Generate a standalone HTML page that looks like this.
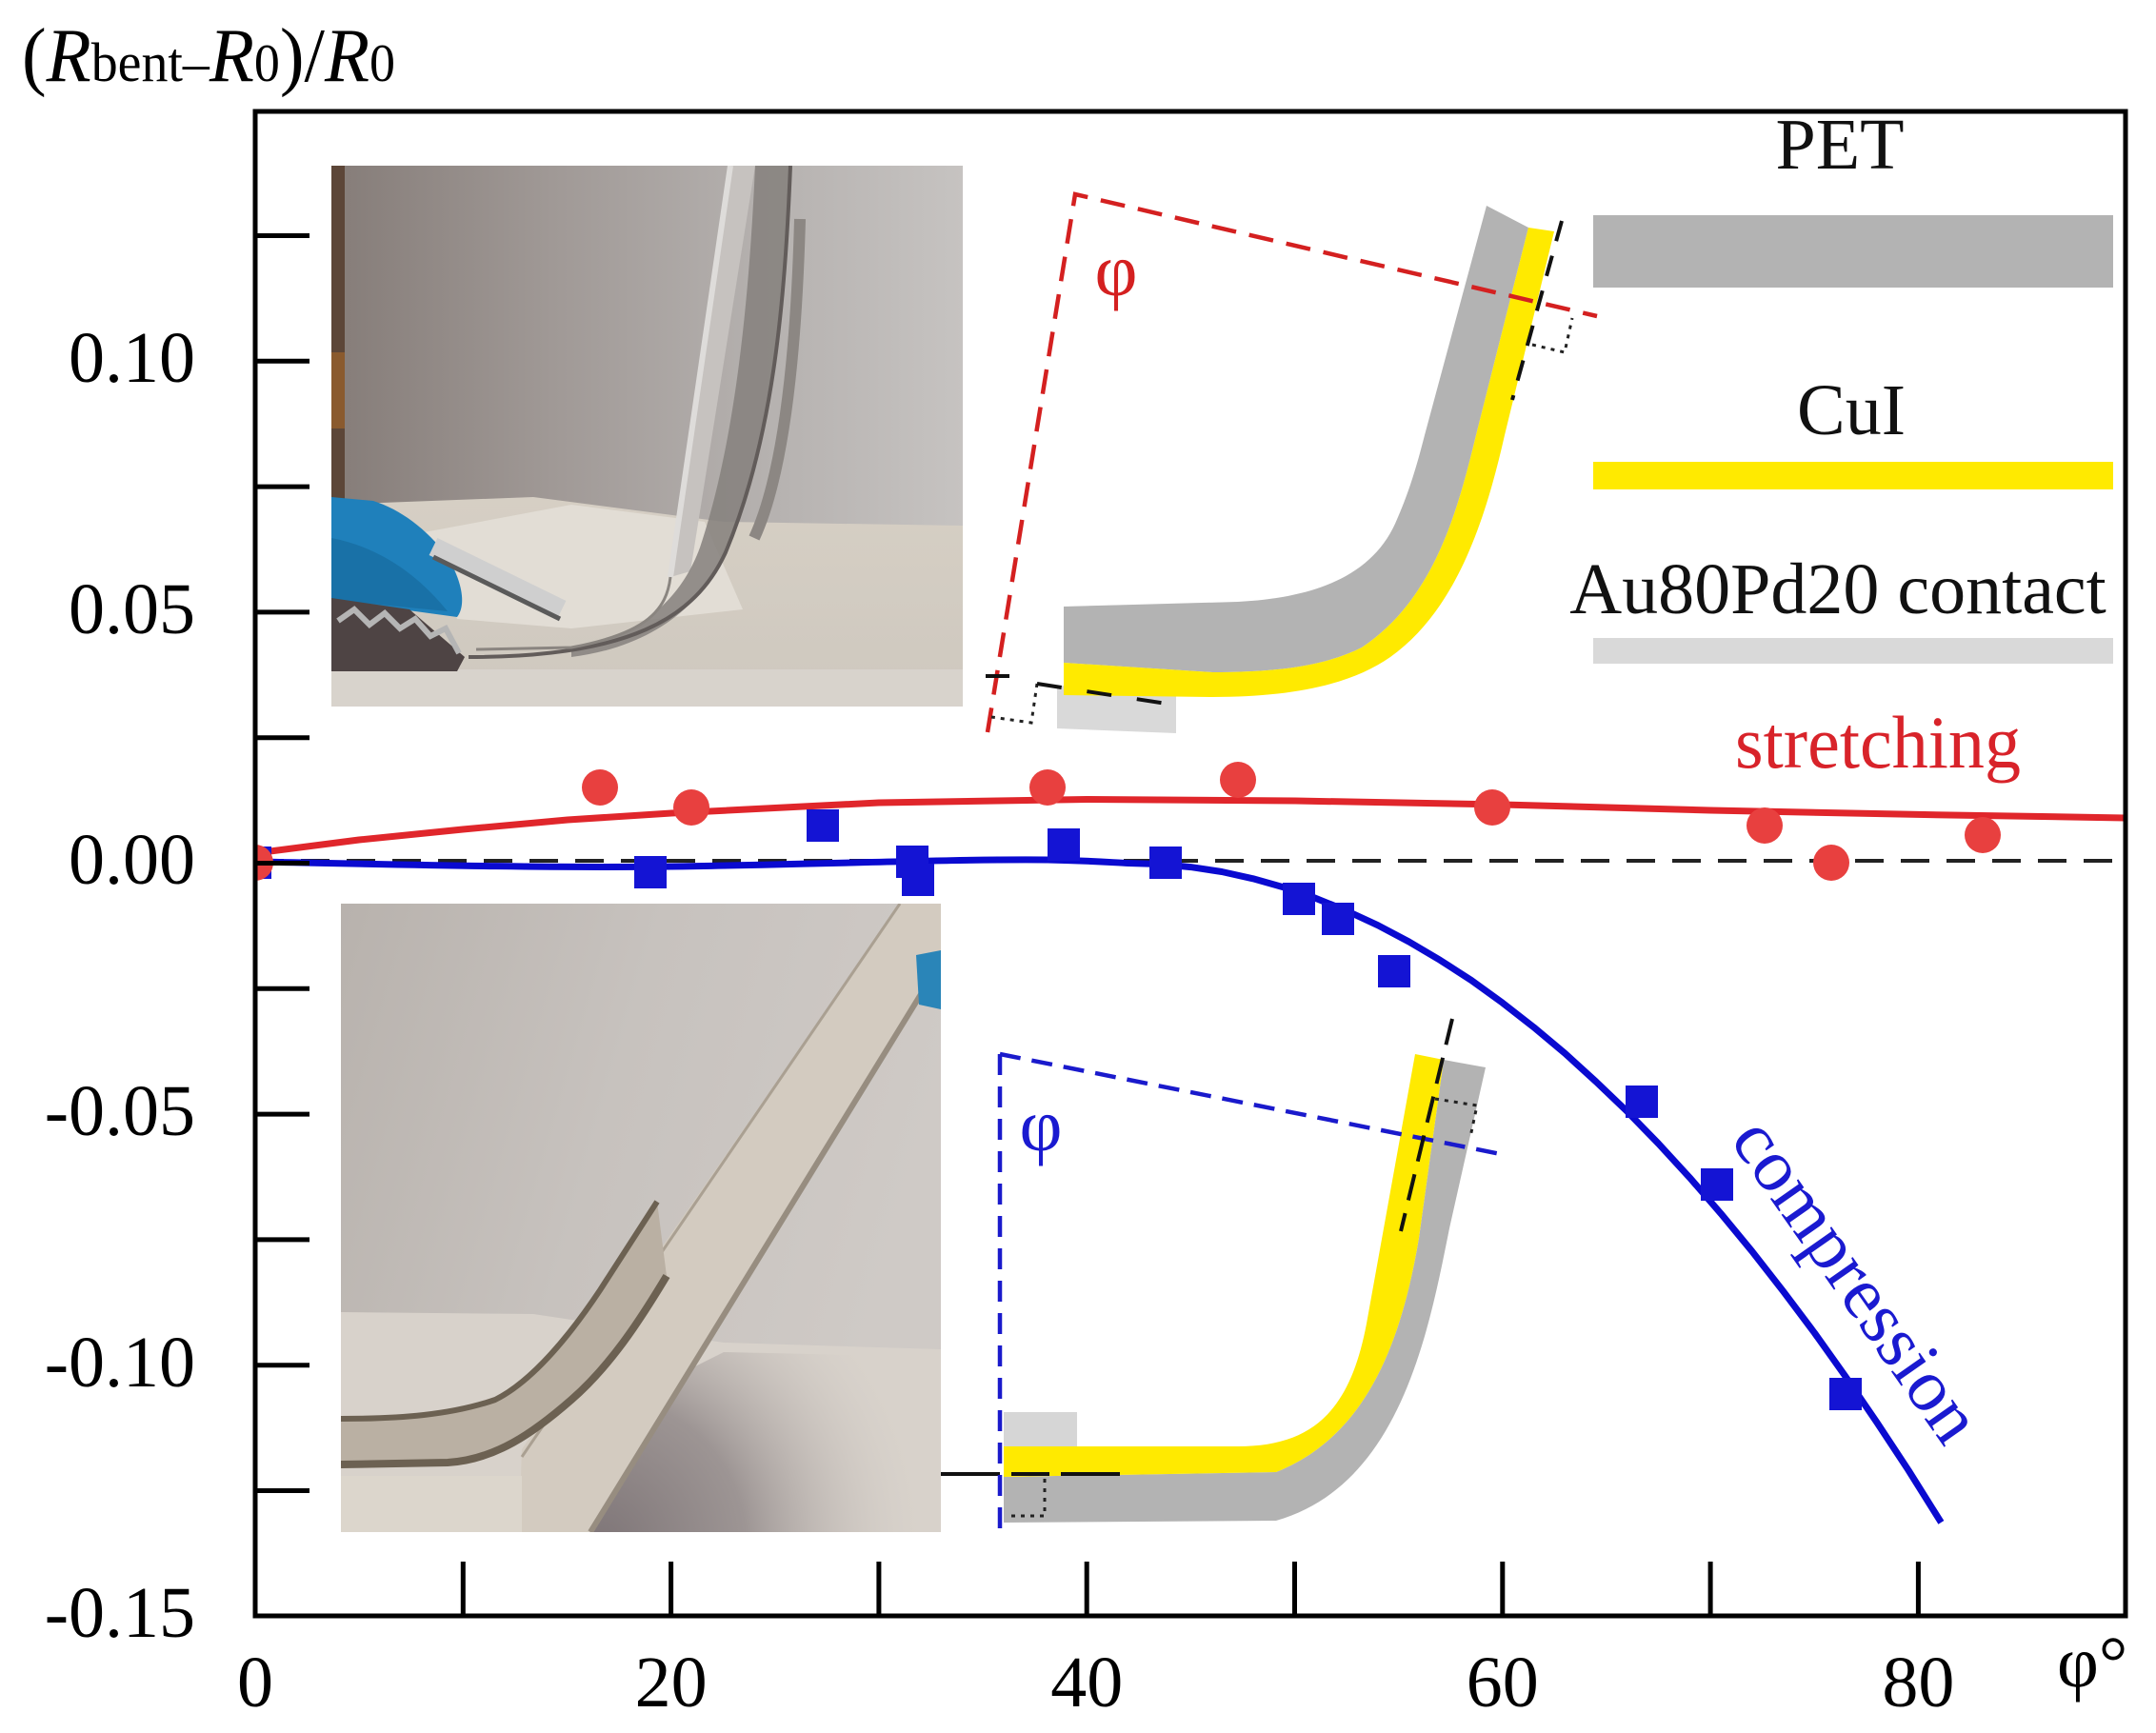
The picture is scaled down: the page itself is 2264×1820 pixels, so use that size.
<!DOCTYPE html>
<html><head><meta charset="utf-8"><style>html,body{margin:0;padding:0;background:#fff}svg{display:block}</style></head>
<body>
<svg width="2264" height="1820" viewBox="0 0 2264 1820" xmlns="http://www.w3.org/2000/svg" font-family="'Liberation Serif', 'DejaVu Serif', serif">
<defs>
  <clipPath id="cp1"><rect x="348" y="174" width="663" height="568"/></clipPath>
  <clipPath id="cp2"><rect x="358" y="949" width="630" height="660"/></clipPath>
  <clipPath id="plot"><rect x="268" y="117" width="1964" height="1580"/></clipPath>
  <linearGradient id="wall1" x1="0" y1="0" x2="1" y2="0">
    <stop offset="0" stop-color="#857c78"/>
    <stop offset="0.35" stop-color="#a09996"/>
    <stop offset="0.7" stop-color="#b6b2b0"/>
    <stop offset="1" stop-color="#c6c3c1"/>
  </linearGradient>
  <linearGradient id="table1" x1="0" y1="0" x2="0" y2="1">
    <stop offset="0" stop-color="#d6cfc4"/>
    <stop offset="1" stop-color="#cec8bf"/>
  </linearGradient>
  <linearGradient id="wall2" x1="0" y1="0" x2="1" y2="0.3">
    <stop offset="0" stop-color="#b8b2ad"/>
    <stop offset="0.5" stop-color="#c7c2be"/>
    <stop offset="1" stop-color="#cfcac6"/>
  </linearGradient>
  <radialGradient id="shadow2" cx="630" cy="1620" r="340" gradientUnits="userSpaceOnUse">
    <stop offset="0" stop-color="#7f7678"/>
    <stop offset="0.45" stop-color="#9d9594"/>
    <stop offset="1" stop-color="#d2ccc6" stop-opacity="0"/>
  </radialGradient>
</defs>
<rect width="2264" height="1820" fill="#ffffff"/>

<!-- Top photo -->
<g clip-path="url(#cp1)">
  <rect x="348" y="174" width="663" height="568" fill="url(#wall1)"/>
  <rect x="348" y="174" width="14" height="400" fill="#5c4638"/>
  <rect x="348" y="370" width="14" height="80" fill="#8a5a2e"/>
  <polygon points="348,530 560,522 760,548 1011,552 1011,742 348,742" fill="url(#table1)"/>
  <polygon points="440,560 600,530 740,548 780,640 600,660 480,650" fill="#e2ddd5"/>
  <rect x="348" y="703" width="663" height="39" fill="#d8d3cc"/>
  <path d="M348,522 L392,526 C420,535 448,555 470,585 C485,610 490,635 480,648 L348,630 Z" fill="#1f80bb"/>
  <path d="M348,565 C400,575 440,605 470,642 L348,630 Z" fill="#16679a" opacity="0.6"/>
  <line x1="455" y1="574" x2="590" y2="640" stroke="#cfcfcf" stroke-width="20"/>
  <line x1="455" y1="585" x2="588" y2="650" stroke="#5a5a5a" stroke-width="5"/>
  <polygon points="348,628 430,640 488,690 480,705 348,705" fill="#4e4444"/>
  <polyline points="355,652 372,640 388,656 404,644 420,660 436,650 452,668 468,660 482,686" stroke="#b5b5b5" stroke-width="6" fill="none"/>
  <polygon points="767,174 793,174 725,600 704,606" fill="#c6c2bf"/>
  <path d="M793,174 L830,174 C824,320 812,460 762,580 C735,640 680,680 600,690 L600,680 C670,670 715,630 735,575 C770,470 786,330 793,174 Z" fill="#85807c" opacity="0.85"/>
  <path d="M840,230 C836,380 822,500 792,565" stroke="#8c8783" stroke-width="12" fill="none"/>
  <path d="M767,174 L704,606" stroke="#dedcda" stroke-width="6" fill="none"/>
  <path d="M830,174 C824,320 812,460 762,580 C730,650 660,690 492,690" stroke="#625c5a" stroke-width="4" fill="none"/>
  <path d="M704,606 C700,640 680,665 600,680 L500,682" stroke="#8a8580" stroke-width="3" fill="none"/>
</g>

<!-- Bottom photo -->
<g clip-path="url(#cp2)">
  <rect x="358" y="949" width="630" height="660" fill="url(#wall2)"/>
  <polygon points="358,1378 560,1380 760,1410 988,1417 988,1609 358,1609" fill="#d8d2cb"/>
  <polygon points="560,1609 640,1480 760,1420 988,1425 988,1609" fill="url(#shadow2)"/>
  <polygon points="548,1522 545,1609 620,1609 988,1010 988,949 945,949" fill="#d3cbc0"/>
  <line x1="620" y1="1609" x2="988" y2="1010" stroke="#978d80" stroke-width="6"/>
  <line x1="548" y1="1530" x2="945" y2="949" stroke="#aaa092" stroke-width="3"/>
  <rect x="358" y="1550" width="190" height="59" fill="#dcd6cc"/>
  <path d="M358,1490 C420,1490 474,1486 520,1470 C560,1450 600,1400 630,1355 L690,1262 L700,1340 C670,1390 640,1435 600,1470 C560,1505 520,1533 470,1536 L358,1538 Z" fill="#bab0a3"/>
  <path d="M358,1490 C420,1490 474,1486 520,1470 C560,1450 600,1400 630,1355 L690,1262" stroke="#6c6152" stroke-width="6" fill="none"/>
  <path d="M700,1340 C670,1390 640,1435 600,1470 C560,1505 520,1533 470,1536 L358,1538" stroke="#6c6152" stroke-width="8" fill="none"/>
  <polygon points="962,1003 988,998 988,1060 965,1055" fill="#2a85b8"/>
</g>

<!-- Stretching schematic -->
<polygon points="1110,720 1235,724 1235,770 1110,765" fill="#d9d9d9"/>
<path d="M1117,637 L1300,632 C1380,628 1440,605 1465,550 C1482,512 1490,480 1496,457 L1561,216 L1605,239 L1584,322 L1550,457 C1530,540 1505,630 1430,680 C1390,700 1340,706 1273,706 L1117,696 Z" fill="#b3b3b3"/>
<path d="M1117,696 L1273,706 C1340,706 1390,700 1430,680 C1505,630 1530,540 1550,457 L1584,322 L1605,239 L1632,243 L1609,338 L1580,457 C1560,545 1530,640 1460,690 C1420,718 1360,732 1273,732 L1117,730 Z" fill="#ffea00"/>
<polyline points="1037,769 1129,204 1677,332" fill="none" stroke="#d42020" stroke-width="4.5" stroke-dasharray="26 14"/>
<line x1="1035" y1="710" x2="1060" y2="710" stroke="#111" stroke-width="4"/>
<polyline points="1089,718 1083,759 1041,753" fill="none" stroke="#222" stroke-width="3" stroke-dasharray="4 6"/>
<line x1="1089" y1="718" x2="1225" y2="739" stroke="#111" stroke-width="4" stroke-dasharray="26 27"/>
<line x1="1640" y1="232" x2="1588" y2="420" stroke="#111" stroke-width="4" stroke-dasharray="22 16"/>
<polyline points="1609,362 1643,370 1651,334" fill="none" stroke="#222" stroke-width="3" stroke-dasharray="4 6"/>
<text x="1172" y="310" font-size="78" fill="#d42020" text-anchor="middle">φ</text>

<!-- Compression schematic -->
<rect x="1054" y="1483" width="77" height="36" fill="#d6d6d6"/>
<path d="M1054,1551 L1340,1546 C1430,1510 1470,1420 1490,1300 L1516,1113 L1560,1121 L1522,1290 C1500,1400 1470,1560 1340,1597 L1054,1599 Z" fill="#b3b3b3"/>
<path d="M1054,1519 L1300,1519 C1380,1519 1418,1480 1435,1390 L1486,1107 L1516,1113 L1490,1300 C1470,1420 1430,1510 1340,1546 L1054,1551 Z" fill="#ffea00"/>
<line x1="988" y1="1548" x2="1184" y2="1548" stroke="#111" stroke-width="4" stroke-dasharray="62 12 40 12"/>
<polyline points="1097,1553 1097,1592 1058,1592" fill="none" stroke="#222" stroke-width="3" stroke-dasharray="4 6"/>
<line x1="1050" y1="1107" x2="1050" y2="1612" stroke="#1a1acc" stroke-width="4.5" stroke-dasharray="22 12"/>
<line x1="1050" y1="1107" x2="1581" y2="1213" stroke="#1a1acc" stroke-width="4.5" stroke-dasharray="22 12"/>
<line x1="1525" y1="1070" x2="1471" y2="1293" stroke="#111" stroke-width="4" stroke-dasharray="28 14"/>
<polyline points="1507,1154 1551,1161 1544,1194" fill="none" stroke="#222" stroke-width="3" stroke-dasharray="4 6"/>
<text x="1093" y="1208" font-size="78" fill="#1a1ad0" text-anchor="middle">φ</text>

<!-- Legend -->
<text x="1932" y="177" font-size="76" text-anchor="middle" fill="#111">PET</text>
<rect x="1673" y="226" width="546" height="76" fill="#b3b3b3"/>
<text x="1944" y="456" font-size="76" text-anchor="middle" fill="#111">CuI</text>
<rect x="1673" y="485" width="546" height="29" fill="#ffea00"/>
<text x="1930" y="644" font-size="76" text-anchor="middle" fill="#111">Au80Pd20 contact</text>
<rect x="1673" y="670" width="546" height="27" fill="#d9d9d9"/>
<text x="1822" y="806" font-size="78" fill="#d8232a" textLength="300" lengthAdjust="spacingAndGlyphs">stretching</text>
<text transform="translate(1929,1359) rotate(55)" font-size="78" fill="#1a1ad0" text-anchor="middle" textLength="395" lengthAdjust="spacingAndGlyphs">compression</text>

<!-- Zero dashed line -->
<line x1="268" y1="904" x2="2232" y2="904" stroke="#222" stroke-width="4" stroke-dasharray="30 18"/>

<!-- Curves -->
<polyline points="268,896 377,882 486,871 596,861 705,854 923,843 1141,839.5 1360,841 1578,845 1796,851 2014,855.4 2232,859" fill="none" stroke="#e0262b" stroke-width="7" stroke-linejoin="round"/>
<path d="M268,905 C380,907 560,912 705,910 C850,908 1000,902 1100,903 C1150,904 1170,906 1185,906.5 L1218,907.5 L1250.4,910.6 L1283,915.5 L1315.8,922.8 L1348.5,932 L1381.3,943.2 L1414,956.5 L1446.8,971.7 L1479.5,989 L1512.3,1008.4 L1545,1029.5 L1577.8,1053.2 L1610.5,1078.7 L1643.3,1106.2 L1676,1136 L1708.8,1167.4 L1741.5,1201 L1774.3,1236.7 L1807,1274.4 L1839.8,1314.1 L1872.5,1356 L1905.3,1399.7 L1938,1445.6 L1970.7,1493.5 L2004,1544 L2038.4,1598.9" fill="none" stroke="#0a0ad0" stroke-width="7" stroke-linejoin="round"/>

<!-- Markers -->
<g clip-path="url(#plot)">
  <g fill="#1414d4">
    <rect x="251" y="889" width="34" height="34"/>
    <rect x="666" y="899" width="34" height="34"/>
    <rect x="847" y="850" width="34" height="34"/>
    <rect x="941" y="888" width="34" height="34"/>
    <rect x="947" y="907" width="34" height="34"/>
    <rect x="1100" y="870" width="34" height="34"/>
    <rect x="1207" y="889" width="34" height="34"/>
    <rect x="1347" y="927" width="34" height="34"/>
    <rect x="1388" y="948" width="34" height="34"/>
    <rect x="1447" y="1003" width="34" height="34"/>
    <rect x="1707" y="1140" width="34" height="34"/>
    <rect x="1786" y="1227" width="34" height="34"/>
    <rect x="1921" y="1447" width="34" height="34"/>
  </g>
  <g fill="#e8403f">
    <circle cx="268" cy="906" r="19"/>
    <circle cx="630" cy="827" r="19"/>
    <circle cx="726" cy="848" r="19"/>
    <circle cx="1100" cy="827" r="19"/>
    <circle cx="1300" cy="819" r="19"/>
    <circle cx="1567" cy="848" r="19"/>
    <circle cx="1853" cy="867" r="19"/>
    <circle cx="1923" cy="906" r="19"/>
    <circle cx="2082" cy="877" r="19"/>
  </g>
</g>

<!-- Frame -->
<rect x="268" y="117" width="1964" height="1580" fill="none" stroke="#000" stroke-width="5"/>
<g stroke="#000" stroke-width="5">
  <line x1="268" y1="247.5" x2="325" y2="247.5"/>
  <line x1="268" y1="379.3" x2="325" y2="379.3"/>
  <line x1="268" y1="511.1" x2="325" y2="511.1"/>
  <line x1="268" y1="642.9" x2="325" y2="642.9"/>
  <line x1="268" y1="774.7" x2="325" y2="774.7"/>
  <line x1="268" y1="906.5" x2="325" y2="906.5"/>
  <line x1="268" y1="1038.3" x2="325" y2="1038.3"/>
  <line x1="268" y1="1170.1" x2="325" y2="1170.1"/>
  <line x1="268" y1="1301.9" x2="325" y2="1301.9"/>
  <line x1="268" y1="1433.7" x2="325" y2="1433.7"/>
  <line x1="268" y1="1565.5" x2="325" y2="1565.5"/>
  <line x1="486.3" y1="1697" x2="486.3" y2="1640"/>
  <line x1="704.6" y1="1697" x2="704.6" y2="1640"/>
  <line x1="922.9" y1="1697" x2="922.9" y2="1640"/>
  <line x1="1141.2" y1="1697" x2="1141.2" y2="1640"/>
  <line x1="1359.5" y1="1697" x2="1359.5" y2="1640"/>
  <line x1="1577.8" y1="1697" x2="1577.8" y2="1640"/>
  <line x1="1796.1" y1="1697" x2="1796.1" y2="1640"/>
  <line x1="2014.4" y1="1697" x2="2014.4" y2="1640"/>
</g>

<!-- Tick labels -->
<g font-size="76" fill="#000" text-anchor="end">
  <text x="205" y="401">0.10</text>
  <text x="205" y="665">0.05</text>
  <text x="205" y="928">0.00</text>
  <text x="205" y="1192">-0.05</text>
  <text x="205" y="1456">-0.10</text>
  <text x="205" y="1719">-0.15</text>
</g>
<g font-size="76" fill="#000" text-anchor="middle">
  <text x="268" y="1792">0</text>
  <text x="704.6" y="1792">20</text>
  <text x="1141.2" y="1792">40</text>
  <text x="1577.8" y="1792">60</text>
  <text x="2014.4" y="1792">80</text>
</g>
<text x="2160" y="1771" font-size="76" fill="#000">φ°</text>

<!-- Y axis title -->
<text x="23" y="85" font-size="80" fill="#000" textLength="392" lengthAdjust="spacingAndGlyphs">(<tspan font-style="italic">R</tspan><tspan font-size="58">bent</tspan><tspan font-size="58">–</tspan><tspan font-style="italic">R</tspan><tspan font-size="56">0</tspan>)/<tspan font-style="italic">R</tspan><tspan font-size="56">0</tspan></text>
</svg>
</body></html>
